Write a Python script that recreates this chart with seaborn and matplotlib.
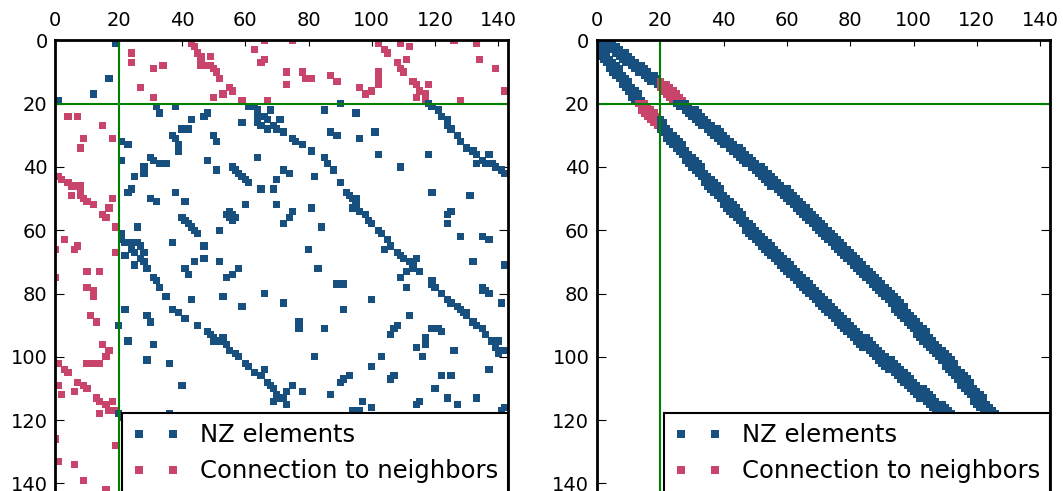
import numpy as np
import pandas as pd
import seaborn as sns
import matplotlib
matplotlib.use("Agg")
import matplotlib.pyplot as plt
from matplotlib.lines import Line2D

n_nodes = 143
split = 20  # first subdomain = rows/cols 0..19
nz_label = "NZ elements"
conn_label = "Connection to neighbors"
blue = "#174f7e"
red = "#c9446a"

# Left: original ordering. Matrix is symmetric, only entries above the diagonal are listed.
left_block = [(1, 19), (12, 17)]
left_top_strip = [
    (4, 24), (7, 24), (9, 31), (8, 34), (15, 27), (18, 31),
    (1, 43), (2, 44), (4, 45), (5, 46), (7, 46), (8, 46), (8, 47), (5, 49), (8, 49),
    (9, 50), (10, 51), (12, 52), (18, 50), (17, 53), (15, 55), (16, 56), (19, 59),
    (3, 63), (7, 65), (6, 66), (0, 66), (19, 67), (0, 75), (10, 73), (14, 73),
    (10, 78), (12, 79), (12, 81), (11, 87), (13, 89),
    (15, 96), (17, 98), (16, 100), (14, 102), (12, 102), (10, 102),
    (1, 102), (3, 104), (4, 105), (7, 108), (9, 109), (10, 110), (1, 109), (2, 112), (6, 111),
    (13, 113), (14, 114), (16, 115), (17, 117), (19, 117), (14, 118), (18, 114),
    (0, 126), (1, 133), (6, 134), (9, 139), (16, 142), (19, 128),
]
left_inner = [
    (21, 32), (23, 33), (21, 38), (25, 43), (24, 47), (23, 48), (28, 40), (28, 42), (26, 59),
    (21, 61), (21, 63), (22, 64), (24, 64), (26, 64), (27, 65), (25, 67), (28, 67),
    (30, 37), (31, 38), (33, 39), (35, 39), (30, 50), (32, 51), (38, 48), (41, 51),
    (40, 56), (41, 57), (42, 58), (43, 59), (44, 60), (45, 61),
    (37, 64), (47, 65), (52, 60), (54, 55), (55, 56), (56, 57),
    (20, 118), (21, 119), (22, 121), (24, 122), (25, 124), (27, 124), (28, 125), (30, 127),
    (32, 128), (34, 130), (35, 132), (36, 133), (38, 135), (39, 133), (36, 137), (39, 136),
    (39, 138), (40, 139), (41, 141), (42, 142),
    (22, 68), (24, 66), (27, 69), (25, 71), (28, 70), (29, 72),
    (31, 75), (32, 76), (33, 78), (35, 81), (22, 85), (20, 90), (23, 95), (29, 87), (30, 89),
    (31, 96), (29, 101), (36, 102), (36, 118), (40, 109),
    (37, 85), (39, 86), (41, 88), (45, 90), (48, 92), (49, 93), (50, 94), (50, 95), (53, 94),
    (52, 95), (54, 96), (55, 98), (57, 99), (58, 100), (60, 102), (61, 103), (63, 105),
    (65, 106), (66, 104),
    (43, 82), (41, 72), (42, 74), (44, 70), (47, 69), (52, 70), (54, 75), (56, 74), (58, 72),
    (53, 81), (59, 84), (66, 80),
    (48, 119), (49, 131), (55, 124), (54, 125), (58, 124), (62, 128), (62, 135), (63, 137),
    (72, 83), (77, 89), (77, 91), (85, 91), (82, 100), (87, 112), (90, 108), (91, 107),
    (93, 106), (100, 103), (106, 107),
    (97, 114), (96, 117), (94, 117), (100, 116), (91, 119), (91, 121), (92, 122), (98, 126),
    (106, 122), (106, 125), (110, 120), (113, 124), (115, 127), (113, 133), (104, 137),
    (114, 115), (116, 142), (117, 141),
    (67, 108), (68, 109), (69, 110), (70, 112), (71, 113), (69, 114), (72, 113), (73, 115),
    (73, 111), (75, 109), (78, 111),
    (76, 119), (77, 119), (78, 120), (80, 122), (82, 124), (83, 125), (84, 127), (85, 128),
    (86, 129), (86, 130), (87, 130), (89, 132), (90, 133), (91, 135), (93, 136), (95, 138),
    (96, 139), (95, 140), (97, 139), (98, 140), (99, 140), (98, 142),
    (83, 141), (78, 135), (79, 136), (80, 137), (79, 135), (70, 132), (71, 142),
]

# Right: reordered matrix, banded. For every row: offset of the first band column
# right of the diagonal; the band is band_cells wide.
right_band_offset = (
    [1] * 4 + [2] * 4 + [3] * 3 + [4] * 3 + [5] * 8 + [6] * 6 + [7] * 6 + [8] * 6
    + [9] * 7 + [10] * 38 + [9] * 8 + [8] * 10 + [7] * 6 + [6] * 5 + [5] * 5
    + [4] * 6 + [3] * 6 + [2] * 6 + [1] * 6
)
band_cells = 4


def to_frame(pairs):
    r = np.array([p[0] for p in pairs])
    c = np.array([p[1] for p in pairs])
    # symmetric matrix -> add the mirrored entries
    rows = np.concatenate([r, c])
    cols = np.concatenate([c, r])
    df = pd.DataFrame({"row": rows, "col": cols}).drop_duplicates()
    df = df[(df["col"] < n_nodes) & (df["row"] < n_nodes)]
    coupling = (df["row"] < split) != (df["col"] < split)
    df["kind"] = np.where(coupling, conn_label, nz_label)
    return df


right_pairs = []
for r, off in enumerate(right_band_offset):
    for c in range(r + off, r + off + band_cells):
        right_pairs.append((r, c))

left_df = to_frame(left_block + left_top_strip + left_inner)
right_df = to_frame(right_pairs)

sns.set_theme(style="ticks", rc={
    "axes.edgecolor": "black", "axes.linewidth": 2.0,
    "xtick.color": "black", "ytick.color": "black", "text.color": "black",
    "xtick.direction": "in", "ytick.direction": "in",
})
plt.rcParams["font.family"] = ["DejaVu Sans"]

marker_pt = 5.2
fig = plt.figure(figsize=(10.63, 4.91), dpi=100)
ax_w = 452.6 / 1063
ax_h = 452.6 / 491
bottom = (491 - 40.3 - 452.6) / 491
axes = [fig.add_axes([55.3 / 1063, bottom, ax_w, ax_h]),
        fig.add_axes([597.0 / 1063, bottom, ax_w, ax_h])]

for ax, df in zip(axes, [left_df, right_df]):
    sns.scatterplot(data=df, x="col", y="row", hue="kind", hue_order=[nz_label, conn_label],
                    palette={nz_label: blue, conn_label: red}, marker="s",
                    s=marker_pt ** 2, linewidth=0, legend=False, ax=ax)
    ax.axvline(split, color="#008000", lw=1.5)
    ax.axhline(split, color="#008000", lw=1.5)
    ax.set_xlim(0, n_nodes)
    ax.set_ylim(n_nodes, 0)
    ax.set_xlabel("")
    ax.set_ylabel("")
    ax.set_xticks(range(0, 141, 20))
    ax.set_yticks(range(0, 141, 20))
    ax.xaxis.tick_top()
    ax.tick_params(axis="x", top=True, bottom=True, labeltop=True, labelbottom=False,
                   length=4, width=0.8, pad=7.5, labelsize=14)
    ax.tick_params(axis="y", left=True, right=True, labelleft=True, labelright=False,
                   length=6.5, width=0.8, pad=5.5, labelsize=14)
    for sp in ax.spines.values():
        sp.set_linewidth(2.0)

    handles = [Line2D([], [], ls="", marker="s", markersize=marker_pt, color=blue, mew=0),
               Line2D([], [], ls="", marker="s", markersize=marker_pt, color=red, mew=0)]
    leg = ax.legend(handles, [nz_label, conn_label], loc="lower right", borderaxespad=0,
                    numpoints=2, fontsize=17.5, fancybox=False, framealpha=1,
                    edgecolor="black", borderpad=0.4, labelspacing=0.5,
                    handlelength=2.0, handletextpad=0.8)
    leg.get_frame().set_linewidth(1.5)

fig.savefig("out.png", dpi=100)
